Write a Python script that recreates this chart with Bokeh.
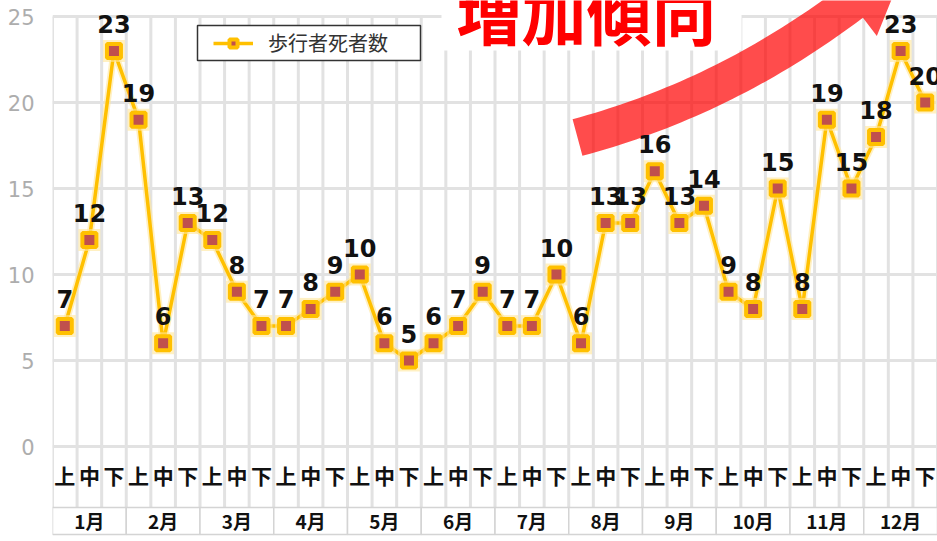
import numpy as np
from bokeh.plotting import figure
from bokeh.models import Range1d, FixedTicker, Legend, LegendItem, Label, ColumnDataSource
from bokeh.core.properties import value
from bokeh.embed import file_html
from bokeh.resources import INLINE

# ---------------- data ----------------
months = ["1月", "2月", "3月", "4月", "5月", "6月", "7月", "8月", "9月", "10月", "11月", "12月"]
periods = ["上", "中", "下"]
values = [7, 12, 23, 19, 6, 13, 12, 9, 7, 7, 8, 9,
          10, 6, 5, 6, 7, 9, 7, 7, 10, 6, 13, 13,
          16, 13, 14, 9, 8, 15, 8, 19, 15, 18, 23, 20]
value_labels = ["7", "12", "23", "19", "6", "13", "12", "8", "7", "7", "8", "9",
                "10", "6", "5", "6", "7", "9", "7", "7", "10", "6", "13", "13",
                "16", "13", "14", "9", "8", "15", "8", "19", "15", "18", "23", "20"]
y_ticks = [0, 5, 10, 15, 20, 25]
series_name = "歩行者死者数"
title_text = "増加傾向"

# ---------------- geometry ----------------
W, H = 937, 541
LEFT = 52
n = len(months) * len(periods)
PX0, PX1 = 52, 937            # page x of frame edges
PY_ZERO, PY_TOP, PY_BOTTOM = 446, 0, 541
UNIT = 17.2                   # px per unit on y
y_start = -(PY_BOTTOM - PY_ZERO) / UNIT
y_end = (PY_ZERO - PY_TOP) / UNIT
cat_w = (PX1 - PX0) / n


def dx(px):
    return (px - PX0) / cat_w


def dy(py):
    return (PY_ZERO - py) / UNIT


p = figure(width=W, height=H, x_range=Range1d(0, n), y_range=Range1d(y_start, y_end),
           x_axis_location=None, output_backend="svg", toolbar_location=None,
           min_border_left=LEFT, min_border_right=0, min_border_top=0, min_border_bottom=0)
p.outline_line_color = None
p.background_fill_color = "white"
p.xgrid.visible = False
p.yaxis.ticker = FixedTicker(ticks=y_ticks)
p.yaxis.axis_line_color = None
p.yaxis.major_tick_line_color = None
p.yaxis.minor_tick_line_color = None
p.yaxis.major_label_standoff = 12
p.yaxis.major_label_text_color = "#adadad"
p.yaxis.major_label_text_font = "DejaVu Sans"
p.yaxis.major_label_text_font_size = "21px"
p.ygrid.grid_line_color = "#e2e2e2"
p.ygrid.grid_line_width = 3

grid_color = "#e2e2e2"

# vertical category boundary lines
bounds = list(range(n + 1))
p.segment(x0=bounds, x1=bounds, y0=[y_ticks[-1]] * len(bounds), y1=[dy(507)] * len(bounds),
          line_color=grid_color, line_width=3)

# month boxes
m_left = [3 * i for i in range(len(months))]
m_right = [3 * i + 3 for i in range(len(months))]
p.quad(left=m_left, right=m_right, top=dy(507), bottom=dy(534),
       fill_color="white", line_color="#d4d4d4", line_width=1.5)

# legend frame
p.quad(left=[dx(197)], right=[dx(420)], top=[dy(25)], bottom=[dy(60)],
       fill_color="white", line_color="#333333", line_width=1.5)

# white box behind the title
p.quad(left=[dx(441)], right=[dx(741)], top=[y_end + 1], bottom=[dy(50)],
       fill_color="white", line_color=None)
p.add_layout(Label(x=dx(586), y=dy(11), text=title_text, text_font="Noto Sans CJK JP",
                   text_font_style="bold", text_font_size="65px", text_color="#ff0000",
                   text_align="center", text_baseline="middle"))

# red curved arrow (decoration)
P0 = np.array([577.0, 137.0]); P1 = np.array([745.0, 92.0]); P2 = np.array([885.0, -25.0])
t_head = 0.88
ts = np.linspace(0, t_head, 40)
pts = np.array([(1 - t) ** 2 * P0 + 2 * (1 - t) * t * P1 + t ** 2 * P2 for t in ts])
tan = np.array([2 * (1 - t) * (P1 - P0) + 2 * t * (P2 - P1) for t in ts])
tan = tan / np.linalg.norm(tan, axis=1)[:, None]
nor = np.stack([-tan[:, 1], tan[:, 0]], axis=1)
hw = 19.0
upper = pts - nor * hw
lower = pts + nor * hw
c = pts[-1]; tg = tan[-1]; nm = nor[-1]
poly = np.vstack([upper, [c - nm * 42], [c + tg * 70], [c + nm * 42], lower[::-1]])
p.patch(x=[dx(v) for v in poly[:, 0]], y=[dy(v) for v in poly[:, 1]],
        fill_color="#ff0000", fill_alpha=0.7, line_color=None)

# series
xs = [i + 0.5 for i in range(n)]
src = ColumnDataSource(dict(x=xs, y=values, lab=value_labels))
p.line("x", "y", source=src, line_color="#ffe699", line_width=7, line_alpha=0.6)
line_r = p.line("x", "y", source=src, line_color="#ffc000", line_width=3.5)
p.scatter("x", "y", source=src, marker="square", size=22, fill_color="#ffe699",
          fill_alpha=0.6, line_color=None)
pts_r = p.scatter("x", "y", source=src, marker="square", size=14, fill_color="#c0504d",
                  line_color="#ffc000", line_width=4)

p.text("x", "y", text="lab", source=src, text_font=value("DejaVu Sans"),
       text_font_style="bold", text_font_size="24px", text_color="#111111",
       text_align="center", text_baseline="middle", y_offset=-27)

# category axis labels
period_labels = periods * len(months)
p.text(x=xs, y=[dy(474)] * n, text=period_labels, text_font=value("Noto Sans CJK JP"),
       text_font_style="bold", text_font_size="21px", text_color="#111111",
       text_align="center", text_baseline="middle")
m_center = [3 * i + 1.5 for i in range(len(months))]
p.text(x=m_center, y=[dy(520)] * len(months), text=months, text_font=value("Noto Sans CJK JP"),
       text_font_style="bold", text_font_size="19px", text_color="#111111",
       text_align="center", text_baseline="middle")

legend = Legend(items=[LegendItem(label=series_name, renderers=[line_r, pts_r])],
                location=(213 - PX0, PY_BOTTOM - 57), margin=0, padding=0,
                glyph_width=40, glyph_height=20, label_standoff=15,
                label_text_font="Noto Sans CJK JP", label_text_font_size="20px",
                label_text_color="#333333", border_line_color=None,
                background_fill_alpha=0)
p.add_layout(legend)

open("out.html", "w").write(file_html(p, INLINE))
